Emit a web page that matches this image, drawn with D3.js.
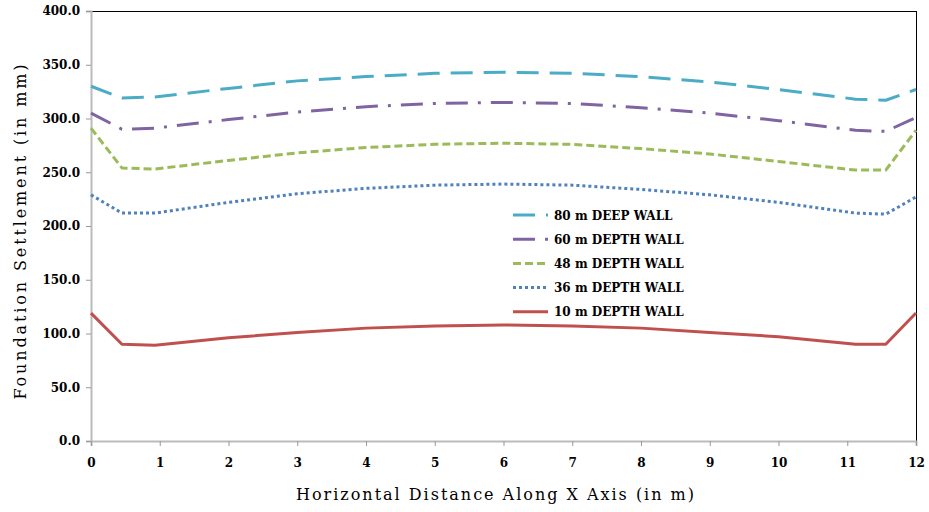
<!DOCTYPE html>
<html><head><meta charset="utf-8">
<script src="https://cdn.jsdelivr.net/npm/d3@7"></script>
<style>body{margin:0;background:#fff}svg{display:block}</style>
</head><body>
<svg id="c" width="929" height="512"></svg>
<script>
const xValues = [0, 0.45, 0.93, 2, 3, 4, 5, 6, 7, 8, 9, 10, 11.12, 11.56, 12];
const seriesNames = ["80 m DEEP WALL", "60 m DEPTH WALL", "48 m DEPTH WALL", "36 m DEPTH WALL", "10 m DEPTH WALL"];
const s80 = [330, 319, 320, 328, 335, 339, 342, 343, 342, 339, 334, 327, 318, 317, 327];
const s60 = [305, 290, 291, 299, 306, 311, 314, 315, 314, 310, 305, 298, 289, 288, 301];
const s48 = [291, 254, 253, 261, 268, 273, 276, 277, 276, 272, 267, 260, 252, 252, 289];
const s36 = [229, 212, 212, 222, 230, 235, 238, 239, 238, 234, 229, 222, 212, 211, 227];
const s10 = [119, 90, 89, 96, 101, 105, 107, 108, 107, 105, 101, 97, 90, 90, 119];
const yTicks = [0, 50, 100, 150, 200, 250, 300, 350, 400];
const xTicks = [0,1,2,3,4,5,6,7,8,9,10,11,12];
const colors = ["#4BACC6", "#8064A2", "#9BBB59", "#4F81BD", "#C0504D"];
const dashes = ["22,11", "22,10,3,10", "8,4", "3,3", null];

const series = [s80, s60, s48, s36, s10];
const svg = d3.select("#c");
const L = 91, R = 916, T = 11, B = 441;
const x = d3.scaleLinear().domain([0, 12]).range([L, R]);
const y = d3.scaleLinear().domain([0, 400]).range([B, T]);
const serif = "'DejaVu Serif', serif";

// frame top & right
svg.append("line").attr("x1", L).attr("x2", R).attr("y1", T + 0.5).attr("y2", T + 0.5).attr("stroke", "#000").attr("stroke-width", 1);
svg.append("line").attr("x1", R + 0.5).attr("x2", R + 0.5).attr("y1", T).attr("y2", B).attr("stroke", "#000").attr("stroke-width", 1);

// y axis
const ya = svg.append("g").attr("transform", `translate(${L},0)`)
  .call(d3.axisLeft(y).tickValues(yTicks).tickFormat(d3.format(".1f")).tickSize(5).tickPadding(6));
ya.select(".domain").attr("stroke", "#bbb").attr("stroke-width", 2);
ya.selectAll(".tick line").attr("stroke", "#999");
ya.selectAll("text").attr("font-family", serif).attr("font-weight", "bold").attr("font-size", 12).attr("fill", "#000");

// x axis
const xa = svg.append("g").attr("transform", `translate(0,${B})`)
  .call(d3.axisBottom(x).tickValues(xTicks).tickFormat(d3.format("d")).tickSize(5).tickPadding(12));
xa.select(".domain").attr("stroke", "#bbb").attr("stroke-width", 2);
xa.selectAll(".tick line").attr("stroke", "#999");
xa.selectAll("text").attr("font-family", serif).attr("font-weight", "bold").attr("font-size", 12).attr("fill", "#000");

// lines
const line = d3.line().x((d, i) => x(xValues[i])).y(d => y(d)).curve(d3.curveLinear);
series.forEach((s, k) => {
  const p = svg.append("path").datum(s).attr("d", line).attr("fill", "none")
    .attr("stroke", colors[k]).attr("stroke-width", 3).attr("stroke-linejoin", "round");
  if (dashes[k]) p.attr("stroke-dasharray", dashes[k]);
});

// legend
const lg = svg.append("g");
seriesNames.forEach((n, k) => {
  const yy = 215 + k * 24.2;
  const l = lg.append("line").attr("x1", 513).attr("x2", 548).attr("y1", yy).attr("y2", yy)
    .attr("stroke", colors[k]).attr("stroke-width", 3);
  if (dashes[k]) l.attr("stroke-dasharray", dashes[k]);
  lg.append("text").attr("x", 554).attr("y", yy + 4.5).text(n)
    .attr("font-family", serif).attr("font-weight", "bold").attr("font-size", 12).attr("fill", "#000");
});

// titles
svg.append("text").attr("x", 495).attr("y", 500).attr("text-anchor", "middle")
  .attr("font-family", serif).attr("font-size", 16).attr("textLength", 398).attr("lengthAdjust", "spacing")
  .text("Horizontal Distance Along X Axis (in m)");
svg.append("text").attr("transform", "translate(26,232) rotate(-90)").attr("text-anchor", "middle")
  .attr("font-family", serif).attr("font-size", 16).attr("textLength", 335).attr("lengthAdjust", "spacing")
  .text("Foundation  Settlement  (in mm)");
</script>
</body></html>
